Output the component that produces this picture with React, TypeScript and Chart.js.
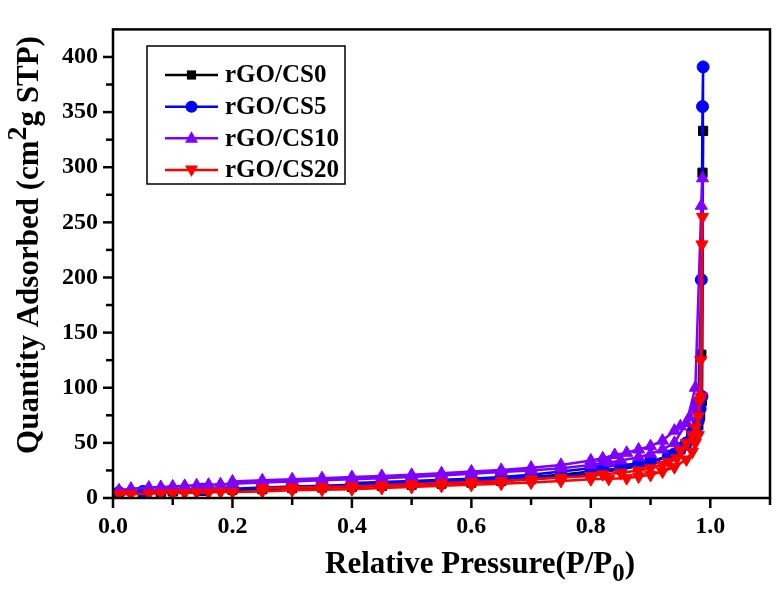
import React, { useEffect, useRef } from "react";
import { Chart, registerables } from "chart.js";

Chart.register(...registerables);

const FONT = '"Liberation Serif", "Times New Roman", serif';

const seriesNames = ["rGO/CS0", "rGO/CS5", "rGO/CS10", "rGO/CS20"];
const seriesColors = ["#000000", "#0000FF", "#7F00FF", "#FF0000"];
const seriesMarkers = ["rect", "circle", "triangle", "triangleDown"];

const xTickLabels = ["0.0", "0.2", "0.4", "0.6", "0.8", "1.0"];
const yTickLabels = ["0", "50", "100", "150", "200", "250", "300", "350", "400"];

// rGO/CS0 (adsorption then desorption)
const cs0X = [0.01, 0.05, 0.08, 0.1, 0.15, 0.2, 0.25, 0.3, 0.35, 0.4, 0.45, 0.5, 0.55, 0.6, 0.65, 0.7, 0.75, 0.8, 0.85, 0.88, 0.9, 0.93, 0.95, 0.97, 0.98, 0.985, 0.987, 0.988,
  0.986, 0.983, 0.98, 0.975, 0.97, 0.96, 0.95, 0.93, 0.9, 0.88, 0.85, 0.82, 0.8, 0.75, 0.7, 0.65, 0.6, 0.55, 0.5, 0.45, 0.4];
const cs0Y = [4, 5, 5.5, 6, 6.5, 7.5, 8, 9, 9.5, 10, 11, 12, 13, 14, 15.5, 17, 19, 22, 26, 29, 33, 38, 45, 58, 82, 130, 295, 333,
  88, 75, 66, 60, 55, 48, 44, 38, 32, 29, 27, 25, 24, 21, 19, 17.5, 16, 15, 14, 13, 12];

// rGO/CS5
const cs5X = [0.01, 0.05, 0.08, 0.1, 0.15, 0.2, 0.25, 0.3, 0.35, 0.4, 0.45, 0.5, 0.55, 0.6, 0.65, 0.7, 0.75, 0.8, 0.85, 0.88, 0.9, 0.93, 0.95, 0.97, 0.98, 0.985, 0.987, 0.988,
  0.986, 0.983, 0.98, 0.975, 0.97, 0.96, 0.95, 0.94, 0.93, 0.9, 0.88, 0.85, 0.82, 0.8, 0.75, 0.7, 0.65, 0.6, 0.55, 0.5, 0.45, 0.4];
const cs5Y = [5, 6, 6.5, 7, 8, 8.5, 9.5, 10.5, 11, 12, 13, 13.5, 14.5, 15.5, 17, 18.5, 20, 23, 27, 30, 33, 38, 45, 60, 87, 198, 355, 391,
  92, 81, 70, 62, 56, 50, 45, 40, 37, 33, 31, 30, 28, 27, 24, 21, 19, 17.5, 16.5, 15.5, 14.5, 13.5];

// rGO/CS10
const cs10X = [0.01, 0.03, 0.06, 0.08, 0.1, 0.12, 0.14, 0.16, 0.18, 0.2, 0.25, 0.3, 0.35, 0.4, 0.45, 0.5, 0.55, 0.6, 0.65, 0.7, 0.75, 0.8, 0.83, 0.85, 0.88, 0.9, 0.92, 0.94, 0.96, 0.975, 0.985, 0.987,
  0.983, 0.975, 0.965, 0.95, 0.94, 0.92, 0.9, 0.88, 0.86, 0.84, 0.82, 0.8, 0.75, 0.7, 0.65, 0.6, 0.55, 0.5, 0.45, 0.4, 0.35, 0.3, 0.25, 0.2];
const cs10Y = [7, 8.5, 9.5, 10, 10.5, 11, 11.5, 12, 12.5, 13, 14, 15, 16, 17, 18, 19, 20.5, 22, 23.5, 25, 27, 30, 32, 34, 37, 40, 44, 50, 68, 100, 265, 290,
  93, 82, 73, 65, 61, 52, 47, 44, 41, 39, 36, 34, 30, 27.5, 25.5, 24, 22.5, 21, 20, 19, 18, 17, 16, 15];

// rGO/CS20
const cs20X = [0.01, 0.03, 0.06, 0.08, 0.1, 0.12, 0.14, 0.16, 0.18, 0.2, 0.25, 0.3, 0.35, 0.4, 0.45, 0.5, 0.55, 0.6, 0.65, 0.7, 0.75, 0.8, 0.83, 0.86, 0.88, 0.9, 0.92, 0.94, 0.96, 0.97, 0.975, 0.98, 0.984, 0.986, 0.987,
  0.985, 0.982, 0.98, 0.975, 0.97, 0.96, 0.95, 0.944, 0.93, 0.92, 0.9, 0.88, 0.85, 0.82, 0.8, 0.75, 0.7, 0.65, 0.6, 0.55, 0.5, 0.45, 0.4, 0.35, 0.3, 0.25];
const cs20Y = [3.5, 3.5, 4, 4, 4.5, 4.5, 5, 5, 5.5, 5.5, 6, 7, 7.5, 8, 9, 10, 11, 12, 13, 14, 15.5, 17, 17.5, 18, 19.5, 21, 24, 28, 35, 42, 50, 57, 125, 230, 255,
  92, 88, 74, 64, 57, 50, 43, 36, 33, 30, 27, 25, 23, 21.5, 20, 18.5, 17, 15.5, 14.5, 13.5, 12.5, 11.5, 10.5, 10, 9.5, 9];

const seriesX = [cs0X, cs5X, cs10X, cs20X];
const seriesY = [cs0Y, cs5Y, cs10Y, cs20Y];
const drawOrder = [3, 2, 1, 0];

function markerPath(ctx: CanvasRenderingContext2D, kind: string, x: number, y: number) {
  ctx.beginPath();
  if (kind === "rect") {
    const h = 4.6;
    ctx.rect(x - h, y - h, 2 * h, 2 * h);
  } else if (kind === "circle") {
    ctx.arc(x, y, 6, 0, Math.PI * 2);
  } else if (kind === "triangle") {
    ctx.moveTo(x, y - 7);
    ctx.lineTo(x + 6.5, y + 4.5);
    ctx.lineTo(x - 6.5, y + 4.5);
    ctx.closePath();
  } else {
    ctx.moveTo(x, y + 7);
    ctx.lineTo(x + 6.5, y - 4.5);
    ctx.lineTo(x - 6.5, y - 4.5);
    ctx.closePath();
  }
}

const decorPlugin = {
  id: "decor",
  afterDraw(chart: any) {
    const { ctx, chartArea: a, scales } = chart;
    ctx.save();
    ctx.strokeStyle = "#000";
    ctx.lineWidth = 2.5;
    ctx.strokeRect(a.left, a.top, a.right - a.left, a.bottom - a.top);

    // tick marks (outward)
    const xs = scales.x;
    xs.ticks.forEach((t: any, i: number) => {
      const px = xs.getPixelForValue(t.value);
      const len = i % 2 === 0 ? 10 : 7;
      ctx.beginPath();
      ctx.moveTo(px, a.bottom);
      ctx.lineTo(px, a.bottom + len);
      ctx.stroke();
    });
    const ys = scales.y;
    ys.ticks.forEach((t: any, i: number) => {
      if (t.value > 410) return;
      const py = ys.getPixelForValue(t.value);
      const len = i % 2 === 0 ? 10 : 7;
      ctx.beginPath();
      ctx.moveTo(a.left, py);
      ctx.lineTo(a.left - len, py);
      ctx.stroke();
    });

    // axis titles
    ctx.fillStyle = "#000";
    ctx.textBaseline = "alphabetic";
    const tf = 31;
    // x title
    {
      const main = "Relative Pressure(P/P";
      const sub = "0";
      const close = ")";
      ctx.font = `bold ${tf}px ${FONT}`;
      const w1 = ctx.measureText(main).width;
      ctx.font = `bold ${tf * 0.8}px ${FONT}`;
      const w2 = ctx.measureText(sub).width;
      ctx.font = `bold ${tf}px ${FONT}`;
      const w3 = ctx.measureText(close).width;
      const total = w1 + w2 + w3;
      const cx = 480;
      const by = 573;
      let x0 = cx - total / 2;
      ctx.textAlign = "left";
      ctx.fillText(main, x0, by);
      ctx.font = `bold ${tf * 0.8}px ${FONT}`;
      ctx.fillText(sub, x0 + w1, by + 8);
      ctx.font = `bold ${tf}px ${FONT}`;
      ctx.fillText(close, x0 + w1 + w2, by);
    }
    // y title
    {
      const p1 = "Quantity Adsorbed (cm";
      const sup = "2";
      const p2 = "g STP)";
      ctx.save();
      ctx.translate(38, 245);
      ctx.rotate(-Math.PI / 2);
      ctx.font = `bold ${tf}px ${FONT}`;
      const w1 = ctx.measureText(p1).width;
      const w3 = ctx.measureText(p2).width;
      ctx.font = `bold ${tf * 0.9}px ${FONT}`;
      const w2 = ctx.measureText(sup).width;
      const total = w1 + w2 + w3;
      let x0 = -total / 2;
      ctx.textAlign = "left";
      ctx.font = `bold ${tf}px ${FONT}`;
      ctx.fillText(p1, x0, 0);
      ctx.font = `bold ${tf * 0.9}px ${FONT}`;
      ctx.fillText(sup, x0 + w1, -12);
      ctx.font = `bold ${tf}px ${FONT}`;
      ctx.fillText(p2, x0 + w1 + w2, 0);
      ctx.restore();
    }

    // legend
    {
      const lx = 147, ly = 46, lw = 198, lh = 138;
      ctx.lineWidth = 1.5;
      ctx.strokeStyle = "#000";
      ctx.strokeRect(lx, ly, lw, lh);
      const rows = [75, 106.7, 138.3, 170];
      seriesNames.forEach((name, i) => {
        const y = rows[i];
        ctx.strokeStyle = seriesColors[i];
        ctx.fillStyle = seriesColors[i];
        ctx.lineWidth = 2.5;
        ctx.beginPath();
        ctx.moveTo(165, y);
        ctx.lineTo(218, y);
        ctx.stroke();
        markerPath(ctx, seriesMarkers[i], 191.5, y);
        ctx.fill();
        ctx.fillStyle = "#000";
        ctx.font = `bold 25px ${FONT}`;
        ctx.textAlign = "left";
        ctx.textBaseline = "middle";
        ctx.fillText(name, 225, y + 1);
      });
    }
    ctx.restore();
  },
};

export default function App() {
  const ref = useRef<HTMLCanvasElement | null>(null);
  useEffect(() => {
    if (!ref.current) return;
    const datasets = seriesNames.map((name, i) => ({
      label: name,
      data: seriesX[i].map((x, j) => ({ x, y: seriesY[i][j] })),
      showLine: true,
      borderColor: seriesColors[i],
      backgroundColor: seriesColors[i],
      borderWidth: 2.5,
      pointStyle: seriesMarkers[i] === "triangleDown" ? "triangle" : seriesMarkers[i],
      rotation: seriesMarkers[i] === "triangleDown" ? 180 : 0,
      pointRadius: seriesMarkers[i] === "rect" ? 6.5 : seriesMarkers[i] === "circle" ? 6 : 7,
      pointBorderWidth: 1,
      pointBorderColor: seriesColors[i],
      pointBackgroundColor: seriesColors[i],
      order: drawOrder[i],
      tension: 0,
    }));
    const chart = new Chart(ref.current, {
      type: "scatter",
      data: { datasets },
      options: {
        animation: false,
        responsive: false,
        devicePixelRatio: 1,
        layout: { padding: { left: 0, top: 3, right: 5, bottom: 0 } },
        plugins: { legend: { display: false }, tooltip: { enabled: false } },
        scales: {
          x: {
            type: "linear",
            min: 0,
            max: 1.1,
            afterFit: (s: any) => { s.height = 96; },
            afterBuildTicks: (s: any) => {
              s.ticks = Array.from({ length: 12 }, (_, k) => ({ value: k / 10 }));
            },
            grid: { display: false, drawTicks: false },
            border: { display: false },
            ticks: {
              autoSkip: false,
              maxRotation: 0,
              padding: 14,
              color: "#000",
              font: { family: FONT, size: 24, weight: "bold" },
              callback: (_v: any, idx: number) => (idx % 2 === 0 ? xTickLabels[idx / 2] ?? "" : ""),
            },
          },
          y: {
            type: "linear",
            min: 0,
            max: 425,
            afterFit: (s: any) => { s.width = 113; },
            afterBuildTicks: (s: any) => {
              s.ticks = Array.from({ length: 17 }, (_, k) => ({ value: k * 25 }));
            },
            grid: { display: false, drawTicks: false },
            border: { display: false },
            ticks: {
              autoSkip: false,
              padding: 15,
              color: "#000",
              font: { family: FONT, size: 24, weight: "bold" },
              callback: (_v: any, idx: number) => (idx % 2 === 0 ? yTickLabels[idx / 2] ?? "" : ""),
            },
          },
        },
      },
      plugins: [decorPlugin],
    } as any);
    return () => chart.destroy();
  }, []);
  return (
    <div style={{ position: "absolute", left: 0, top: 0, width: 784, height: 594, background: "#fff" }}>
      <canvas ref={ref} width={784} height={594} style={{ width: 784, height: 594, display: "block" }} />
    </div>
  );
}
